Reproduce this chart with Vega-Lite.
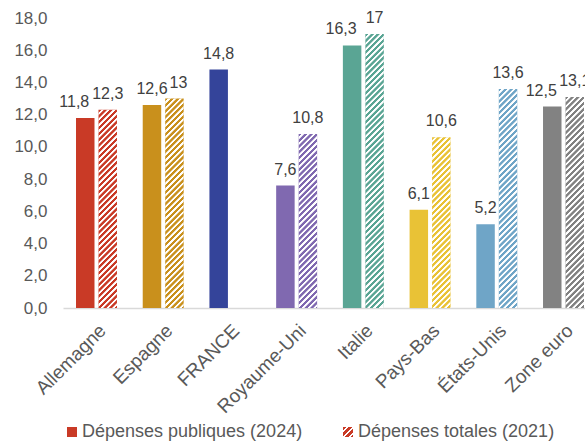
{
  "$schema": "https://vega.github.io/schema/vega-lite/v6.json",
  "width": 522,
  "height": 290,
  "autosize": {"type": "none"},
  "padding": {"left": 63, "top": 18, "right": 0, "bottom": 134},
  "params": [
    {"name": "stripes", "value": [
      {"offset":0,"color":"#fff0"},{"offset":0.009,"color":"#fff0"},{"offset":0.011,"color":"#fff"},{"offset":0.018,"color":"#fff"},
      {"offset":0.02,"color":"#fff0"},{"offset":0.029,"color":"#fff0"},{"offset":0.031,"color":"#fff"},{"offset":0.038,"color":"#fff"},
      {"offset":0.04,"color":"#fff0"},{"offset":0.049,"color":"#fff0"},{"offset":0.051,"color":"#fff"},{"offset":0.058,"color":"#fff"},
      {"offset":0.06,"color":"#fff0"},{"offset":0.069,"color":"#fff0"},{"offset":0.071,"color":"#fff"},{"offset":0.078,"color":"#fff"},
      {"offset":0.08,"color":"#fff0"},{"offset":0.089,"color":"#fff0"},{"offset":0.091,"color":"#fff"},{"offset":0.098,"color":"#fff"},
      {"offset":0.1,"color":"#fff0"},{"offset":0.109,"color":"#fff0"},{"offset":0.111,"color":"#fff"},{"offset":0.118,"color":"#fff"},
      {"offset":0.12,"color":"#fff0"},{"offset":0.129,"color":"#fff0"},{"offset":0.131,"color":"#fff"},{"offset":0.138,"color":"#fff"},
      {"offset":0.14,"color":"#fff0"},{"offset":0.149,"color":"#fff0"},{"offset":0.151,"color":"#fff"},{"offset":0.158,"color":"#fff"},
      {"offset":0.16,"color":"#fff0"},{"offset":0.169,"color":"#fff0"},{"offset":0.171,"color":"#fff"},{"offset":0.178,"color":"#fff"},
      {"offset":0.18,"color":"#fff0"},{"offset":0.189,"color":"#fff0"},{"offset":0.191,"color":"#fff"},{"offset":0.198,"color":"#fff"},
      {"offset":0.2,"color":"#fff0"},{"offset":0.209,"color":"#fff0"},{"offset":0.211,"color":"#fff"},{"offset":0.218,"color":"#fff"},
      {"offset":0.22,"color":"#fff0"},{"offset":0.229,"color":"#fff0"},{"offset":0.231,"color":"#fff"},{"offset":0.238,"color":"#fff"},
      {"offset":0.24,"color":"#fff0"},{"offset":0.249,"color":"#fff0"},{"offset":0.251,"color":"#fff"},{"offset":0.258,"color":"#fff"},
      {"offset":0.26,"color":"#fff0"},{"offset":0.269,"color":"#fff0"},{"offset":0.271,"color":"#fff"},{"offset":0.278,"color":"#fff"},
      {"offset":0.28,"color":"#fff0"},{"offset":0.289,"color":"#fff0"},{"offset":0.291,"color":"#fff"},{"offset":0.298,"color":"#fff"},
      {"offset":0.3,"color":"#fff0"},{"offset":0.309,"color":"#fff0"},{"offset":0.311,"color":"#fff"},{"offset":0.318,"color":"#fff"},
      {"offset":0.32,"color":"#fff0"},{"offset":0.329,"color":"#fff0"},{"offset":0.331,"color":"#fff"},{"offset":0.338,"color":"#fff"},
      {"offset":0.34,"color":"#fff0"},{"offset":0.349,"color":"#fff0"},{"offset":0.351,"color":"#fff"},{"offset":0.358,"color":"#fff"},
      {"offset":0.36,"color":"#fff0"},{"offset":0.369,"color":"#fff0"},{"offset":0.371,"color":"#fff"},{"offset":0.378,"color":"#fff"},
      {"offset":0.38,"color":"#fff0"},{"offset":0.389,"color":"#fff0"},{"offset":0.391,"color":"#fff"},{"offset":0.398,"color":"#fff"},
      {"offset":0.4,"color":"#fff0"},{"offset":0.409,"color":"#fff0"},{"offset":0.411,"color":"#fff"},{"offset":0.418,"color":"#fff"},
      {"offset":0.42,"color":"#fff0"},{"offset":0.429,"color":"#fff0"},{"offset":0.431,"color":"#fff"},{"offset":0.438,"color":"#fff"},
      {"offset":0.44,"color":"#fff0"},{"offset":0.449,"color":"#fff0"},{"offset":0.451,"color":"#fff"},{"offset":0.458,"color":"#fff"},
      {"offset":0.46,"color":"#fff0"},{"offset":0.469,"color":"#fff0"},{"offset":0.471,"color":"#fff"},{"offset":0.478,"color":"#fff"},
      {"offset":0.48,"color":"#fff0"},{"offset":0.489,"color":"#fff0"},{"offset":0.491,"color":"#fff"},{"offset":0.498,"color":"#fff"},
      {"offset":0.5,"color":"#fff0"},{"offset":0.509,"color":"#fff0"},{"offset":0.511,"color":"#fff"},{"offset":0.518,"color":"#fff"},
      {"offset":0.52,"color":"#fff0"},{"offset":0.529,"color":"#fff0"},{"offset":0.531,"color":"#fff"},{"offset":0.538,"color":"#fff"},
      {"offset":0.54,"color":"#fff0"},{"offset":0.549,"color":"#fff0"},{"offset":0.551,"color":"#fff"},{"offset":0.558,"color":"#fff"},
      {"offset":0.56,"color":"#fff0"},{"offset":0.569,"color":"#fff0"},{"offset":0.571,"color":"#fff"},{"offset":0.578,"color":"#fff"},
      {"offset":0.58,"color":"#fff0"},{"offset":0.589,"color":"#fff0"},{"offset":0.591,"color":"#fff"},{"offset":0.598,"color":"#fff"},
      {"offset":0.6,"color":"#fff0"},{"offset":0.609,"color":"#fff0"},{"offset":0.611,"color":"#fff"},{"offset":0.618,"color":"#fff"},
      {"offset":0.62,"color":"#fff0"},{"offset":0.629,"color":"#fff0"},{"offset":0.631,"color":"#fff"},{"offset":0.638,"color":"#fff"},
      {"offset":0.64,"color":"#fff0"},{"offset":0.649,"color":"#fff0"},{"offset":0.651,"color":"#fff"},{"offset":0.658,"color":"#fff"},
      {"offset":0.66,"color":"#fff0"},{"offset":0.669,"color":"#fff0"},{"offset":0.671,"color":"#fff"},{"offset":0.678,"color":"#fff"},
      {"offset":0.68,"color":"#fff0"},{"offset":0.689,"color":"#fff0"},{"offset":0.691,"color":"#fff"},{"offset":0.698,"color":"#fff"},
      {"offset":0.7,"color":"#fff0"},{"offset":0.709,"color":"#fff0"},{"offset":0.711,"color":"#fff"},{"offset":0.718,"color":"#fff"},
      {"offset":0.72,"color":"#fff0"},{"offset":0.729,"color":"#fff0"},{"offset":0.731,"color":"#fff"},{"offset":0.738,"color":"#fff"},
      {"offset":0.74,"color":"#fff0"},{"offset":0.749,"color":"#fff0"},{"offset":0.751,"color":"#fff"},{"offset":0.758,"color":"#fff"},
      {"offset":0.76,"color":"#fff0"},{"offset":0.769,"color":"#fff0"},{"offset":0.771,"color":"#fff"},{"offset":0.778,"color":"#fff"},
      {"offset":0.78,"color":"#fff0"},{"offset":0.789,"color":"#fff0"},{"offset":0.791,"color":"#fff"},{"offset":0.798,"color":"#fff"},
      {"offset":0.8,"color":"#fff0"},{"offset":0.809,"color":"#fff0"},{"offset":0.811,"color":"#fff"},{"offset":0.818,"color":"#fff"},
      {"offset":0.82,"color":"#fff0"},{"offset":0.829,"color":"#fff0"},{"offset":0.831,"color":"#fff"},{"offset":0.838,"color":"#fff"},
      {"offset":0.84,"color":"#fff0"},{"offset":0.849,"color":"#fff0"},{"offset":0.851,"color":"#fff"},{"offset":0.858,"color":"#fff"},
      {"offset":0.86,"color":"#fff0"},{"offset":0.869,"color":"#fff0"},{"offset":0.871,"color":"#fff"},{"offset":0.878,"color":"#fff"},
      {"offset":0.88,"color":"#fff0"},{"offset":0.889,"color":"#fff0"},{"offset":0.891,"color":"#fff"},{"offset":0.898,"color":"#fff"},
      {"offset":0.9,"color":"#fff0"},{"offset":0.909,"color":"#fff0"},{"offset":0.911,"color":"#fff"},{"offset":0.918,"color":"#fff"},
      {"offset":0.92,"color":"#fff0"},{"offset":0.929,"color":"#fff0"},{"offset":0.931,"color":"#fff"},{"offset":0.938,"color":"#fff"},
      {"offset":0.94,"color":"#fff0"},{"offset":0.949,"color":"#fff0"},{"offset":0.951,"color":"#fff"},{"offset":0.958,"color":"#fff"},
      {"offset":0.96,"color":"#fff0"},{"offset":0.969,"color":"#fff0"},{"offset":0.971,"color":"#fff"},{"offset":0.978,"color":"#fff"},
      {"offset":0.98,"color":"#fff0"},{"offset":0.989,"color":"#fff0"},{"offset":0.991,"color":"#fff"},{"offset":0.998,"color":"#fff"}
    ]}
  ],
  "data": {"values": [
    {"country": "Allemagne", "series": "Dépenses publiques (2024)", "value": 11.8},
    {"country": "Allemagne", "series": "Dépenses totales (2021)", "value": 12.3},
    {"country": "Espagne", "series": "Dépenses publiques (2024)", "value": 12.6},
    {"country": "Espagne", "series": "Dépenses totales (2021)", "value": 13},
    {"country": "FRANCE", "series": "Dépenses publiques (2024)", "value": 14.8},
    {"country": "Royaume-Uni", "series": "Dépenses publiques (2024)", "value": 7.6},
    {"country": "Royaume-Uni", "series": "Dépenses totales (2021)", "value": 10.8},
    {"country": "Italie", "series": "Dépenses publiques (2024)", "value": 16.3},
    {"country": "Italie", "series": "Dépenses totales (2021)", "value": 17},
    {"country": "Pays-Bas", "series": "Dépenses publiques (2024)", "value": 6.1},
    {"country": "Pays-Bas", "series": "Dépenses totales (2021)", "value": 10.6},
    {"country": "États-Unis", "series": "Dépenses publiques (2024)", "value": 5.2},
    {"country": "États-Unis", "series": "Dépenses totales (2021)", "value": 13.6},
    {"country": "Zone euro", "series": "Dépenses publiques (2024)", "value": 12.5},
    {"country": "Zone euro", "series": "Dépenses totales (2021)", "value": 13.1}
  ]},
  "encoding": {
    "x": {
      "field": "country", "type": "nominal", "sort": null,
      "scale": {"domain": ["Allemagne", "Espagne", "FRANCE", "Royaume-Uni", "Italie", "Pays-Bas", "États-Unis", "Zone euro"], "range": [0, 534], "paddingInner": 0.386, "paddingOuter": 0.195},
      "axis": {"title": null, "labelAngle": -45, "labelFontSize": 19, "labelColor": "#595959", "ticks": false, "domainColor": "#d9d9d9", "domainWidth": 1.5, "labelPadding": 13, "labelOverlap": false}
    },
    "xOffset": {
      "field": "series", "type": "nominal",
      "scale": {"domain": ["Dépenses publiques (2024)", "Dépenses totales (2021)"], "paddingInner": 0.178, "paddingOuter": 0}
    },
    "y": {
      "field": "value", "type": "quantitative",
      "scale": {"domain": [0, 18], "nice": false},
      "axis": {"title": null, "values": [0, 2, 4, 6, 8, 10, 12, 14, 16, 18], "format": ".1f", "grid": false, "domain": false, "ticks": false, "labelFontSize": 17, "labelColor": "#595959", "labelPadding": 16}
    }
  },
  "layer": [
    {
      "mark": {"type": "bar"},
      "encoding": {
        "color": {
          "field": "country", "type": "nominal", "legend": null,
          "scale": {"domain": ["Allemagne", "Espagne", "FRANCE", "Royaume-Uni", "Italie", "Pays-Bas", "États-Unis", "Zone euro"],
                    "range": ["#c93a26", "#c9901c", "#34449a", "#8069b0", "#5aa594", "#e9c236", "#6fa5c7", "#828282"]}
        },
        "opacity": {
          "field": "series", "type": "nominal",
          "scale": {"domain": ["Dépenses publiques (2024)", "Dépenses totales (2021)"], "range": [1, 1]},
          "legend": {
            "title": null, "orient": "none", "legendX": 0, "legendY": 405, "direction": "horizontal",
            "symbolType": "square", "symbolSize": 100, "symbolStrokeWidth": 0, "symbolFillColor": "#c93a26",
            "labelFontSize": 18, "labelColor": "#595959", "labelLimit": 400,
            "labelFont": "Liberation Sans", "columnPadding": 36, "labelOffset": 1, "padding": 0,
            "encoding": {"symbols": {
              "fill": {
                "condition": {"test": "datum.value === 'Dépenses publiques (2024)'", "value": "#c93a26"},
                "value": {"gradient": "linear", "x1": 0, "y1": 0, "x2": 1, "y2": 1, "stops": [
                  {"offset": 0, "color": "#c93a26"}, {"offset": 0.16, "color": "#c93a26"}, {"offset": 0.19, "color": "#ffffff"}, {"offset": 0.27, "color": "#ffffff"},
                  {"offset": 0.3, "color": "#c93a26"}, {"offset": 0.46, "color": "#c93a26"}, {"offset": 0.49, "color": "#ffffff"}, {"offset": 0.57, "color": "#ffffff"},
                  {"offset": 0.6, "color": "#c93a26"}, {"offset": 0.76, "color": "#c93a26"}, {"offset": 0.79, "color": "#ffffff"}, {"offset": 0.87, "color": "#ffffff"},
                  {"offset": 0.9, "color": "#c93a26"}, {"offset": 1, "color": "#c93a26"}]}
              },
              "opacity": {"value": 1}
            }}
          }
        }
      }
    },
    {
      "transform": [{"filter": "datum.series === 'Dépenses totales (2021)'"}],
      "mark": {"type": "bar"},
      "encoding": {
        "fill": {"value": {"expr": "{gradient: 'linear', x1: 0, y1: 0, x2: (18.5/(datum.value*16.111))*290/(datum.value*16.111*(1+pow(18.5/(datum.value*16.111),2))), y2: 290/(datum.value*16.111*(1+pow(18.5/(datum.value*16.111),2))), stops: stripes}"}}
      }
    },
    {
      "transform": [{"filter": "!(datum.series === 'Dépenses publiques (2024)' && indexof(['Allemagne','Italie','Zone euro'], datum.country) >= 0) && !(datum.series === 'Dépenses totales (2021)' && datum.country === 'Espagne')"}],
      "mark": {"type": "text", "baseline": "alphabetic", "dy": -11, "fontSize": 16, "color": "#404040", "font": "Liberation Sans"},
      "encoding": {"text": {"field": "value", "type": "quantitative", "format": "~g"}}
    },
    {
      "transform": [{"filter": "datum.series === 'Dépenses publiques (2024)' && indexof(['Allemagne','Italie','Zone euro'], datum.country) >= 0"}],
      "mark": {"type": "text", "baseline": "alphabetic", "dy": -11, "dx": -11, "fontSize": 16, "color": "#404040", "font": "Liberation Sans"},
      "encoding": {"text": {"field": "value", "type": "quantitative", "format": "~g"}}
    },
    {
      "transform": [{"filter": "datum.series === 'Dépenses totales (2021)' && datum.country === 'Espagne'"}],
      "mark": {"type": "text", "baseline": "alphabetic", "dy": -11, "dx": 4, "fontSize": 16, "color": "#404040", "font": "Liberation Sans"},
      "encoding": {"text": {"field": "value", "type": "quantitative", "format": "~g"}}
    }
  ],
  "config": {
    "font": "Liberation Sans",
    "view": {"stroke": null},
    "locale": {"number": {"decimal": ",", "thousands": " ", "grouping": [3], "currency": ["", " €"]}}
  }
}
